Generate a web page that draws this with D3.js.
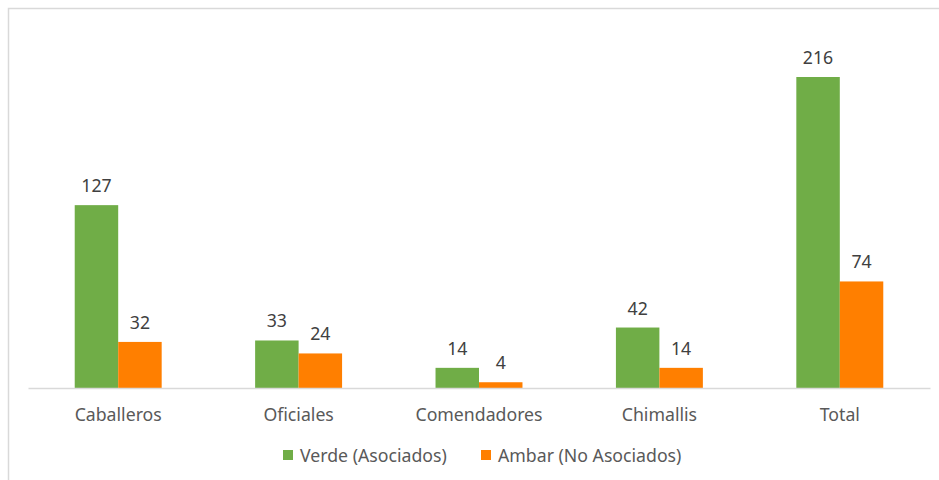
<!DOCTYPE html>
<html>
<head>
<meta charset="utf-8">
<script src="https://cdn.jsdelivr.net/npm/d3@7/dist/d3.min.js"></script>
<style>
  html, body { margin: 0; padding: 0; background: #fff; }
  svg { display: block; font-family: "Noto Sans", sans-serif; }
</style>
</head>
<body>
<svg id="chart" width="939" height="480"></svg>
<script>
// data
const categories = ["Caballeros", "Oficiales", "Comendadores", "Chimallis", "Total"];
const seriesNames = ["Verde (Asociados)", "Ambar (No Asociados)"];
const verde = [127, 33, 14, 42, 216];
const ambar = [32, 24, 4, 14, 74];
const colors = ["#70AD47", "#FF7F00"];

const width = 939, height = 480;
const fontSize = 17.7;
const svg = d3.select("#chart");

// chart frame (only top/left edges visible in the crop)
svg.append("path")
  .attr("d", `M8.5,${height} V8.5 H${width}`)
  .attr("fill", "none")
  .attr("stroke", "#d9d9d9")
  .attr("stroke-width", 1.5);

const rows = categories.map((c, i) => ({ cat: c, values: [verde[i], ambar[i]] }));

//x scale
const x = d3.scaleBand()
  .domain(categories)
  .range([28, 930])
  .paddingInner(0.518)
  .paddingOuter(0.259);

const xs = d3.scaleBand()
  .domain([0, 1])
  .range([0, x.bandwidth()]);

//y scale
const y = d3.scaleLinear()
  .domain([0, 216])
  .range([388, 77]);

// bars
const groups = svg.selectAll(".grp")
  .data(rows)
  .join("g")
  .attr("class", "grp")
  .attr("transform", (d) => `translate(${x(d.cat)},0)`);

groups.selectAll("rect")
  .data((d) => d.values.map((v, k) => ({ v, k })))
  .join("rect")
  .attr("x", (d) => xs(d.k))
  .attr("y", (d) => y(d.v))
  .attr("width", xs.bandwidth())
  .attr("height", (d) => y(0) - y(d.v))
  .attr("fill", (d) => colors[d.k]);

// value labels
groups.selectAll("text")
  .data((d) => d.values.map((v, k) => ({ v, k })))
  .join("text")
  .attr("x", (d) => xs(d.k) + xs.bandwidth() / 2)
  .attr("y", (d) => y(d.v) - 13)
  .attr("text-anchor", "middle")
  .attr("font-size", fontSize)
  .attr("fill", "#404040")
  .text((d) => d.v);

//xAxis
const xAxis = d3.axisBottom(x).tickSize(0).tickPadding(0);
const gx = svg.append("g")
  .attr("transform", `translate(0,${y(0)})`)
  .call(xAxis);
gx.select(".domain").attr("stroke", "#d9d9d9").attr("stroke-width", 1.5);
gx.selectAll(".tick text")
  .attr("dy", null)
  .attr("y", 33)
  .attr("font-size", fontSize)
  .attr("font-family", "Noto Sans")
  .attr("fill", "#595959");

// legend
const legendX = [283, 481];
const legend = svg.selectAll(".leg")
  .data(seriesNames)
  .join("g")
  .attr("class", "leg")
  .attr("transform", (d, i) => `translate(${legendX[i]},450)`);
legend.append("rect")
  .attr("width", 10)
  .attr("height", 10)
  .attr("fill", (d, i) => colors[i]);
legend.append("text")
  .attr("x", 17)
  .attr("y", 12)
  .attr("font-size", fontSize)
  .attr("fill", "#595959")
  .text((d) => d);
</script>
</body>
</html>
